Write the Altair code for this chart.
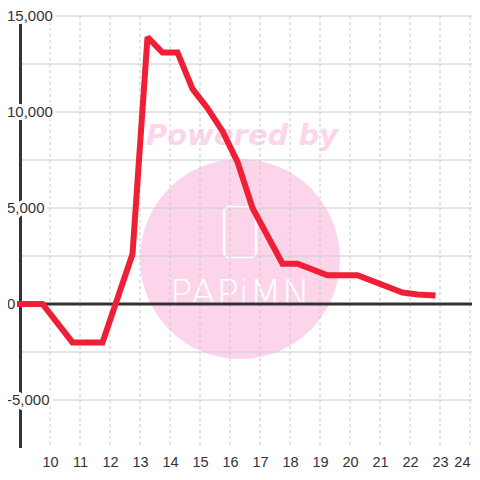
import altair as alt
import pandas as pd

# ---- data ----
hours = [9.0, 9.75, 10.75, 11.75, 12.75, 13.25, 13.75, 14.25, 14.75, 15.25,
         15.75, 16.25, 16.75, 17.75, 18.25, 19.25, 20.25, 21.75, 22.25, 22.75]
values = [0, 0, -2000, -2000, 2600, 13900, 13100, 13100, 11200, 10200,
          9000, 7400, 5000, 2100, 2100, 1500, 1500, 600, 500, 450]

x_ticks = list(range(10, 25))
y_grid = [-5000, -2500, 2500, 5000, 7500, 10000, 12500, 15000]
y_label_values = [15000, 10000, 5000, 0, -5000]
y_label_texts = ["15,000", "10,000", "5,000", "0", "-5,000"]

watermark_top = ["Powered by"]
watermark_brand = ["PAPiMN"]

W, H = 452, 432
X_MIN, X_MAX = 9, 9 + W / 30
Y_MIN, Y_MAX = -7500, 15000

FONT = "Liberation Sans"
DARK = "#333333"
RED = "#EE1F36"
PINK = "#FCD5EA"

series = pd.DataFrame({"x": hours, "y": values})
xt = pd.DataFrame({"x": x_ticks})
yg = pd.DataFrame({"y": y_grid})
yl = pd.DataFrame({"y": y_label_values, "t": y_label_texts})
one = pd.DataFrame({"a": [1]})

xs = alt.Scale(domain=[X_MIN, X_MAX], nice=False, zero=False)
ys = alt.Scale(domain=[Y_MIN, Y_MAX], nice=False, zero=False)
xaxis = alt.Axis(values=x_ticks, grid=False, domain=False, ticks=False,
                 labelFont=FONT, labelFontSize=14.5, labelColor=DARK,
                 labelPadding=7, title=None, labelFlush=6, labelOverlap=False)

# watermark (background decoration)
wm_circle = alt.Chart(one).mark_circle(
    color=PINK, opacity=1, size=40000
).encode(x=alt.value(220), y=alt.value(243))

wm_text = alt.Chart(pd.DataFrame({"t": watermark_top})).mark_text(
    font="DejaVu Sans", fontWeight="bold", fontStyle="italic", fontSize=29,
    color=PINK, align="center", baseline="alphabetic"
).encode(x=alt.value(222), y=alt.value(129), text="t:N")

wm_phone = alt.Chart(one).mark_rect(
    fillOpacity=0, stroke="white", strokeWidth=2.5, cornerRadius=5
).encode(x=alt.value(204), x2=alt.value(236), y=alt.value(191), y2=alt.value(241))

wm_brand = alt.Chart(pd.DataFrame({"t": watermark_brand})).mark_text(
    font="DejaVu Sans", fontWeight=300, fontSize=38, color="white", align="center",
    baseline="alphabetic"
).encode(x=alt.value(220), y=alt.value(290), text="t:N")

# grid
vgrid = alt.Chart(xt).mark_rule(color="#c8c8c8", strokeWidth=1, strokeDash=[3, 3]).encode(
    x=alt.X("x:Q", scale=xs, axis=xaxis),
    y=alt.value(0), y2=alt.value(H),
)

hgrid = alt.Chart(yg).mark_rule(color="#cccccc", strokeWidth=1).encode(
    y=alt.Y("y:Q", scale=ys, axis=None),
    x=alt.value(0), x2=alt.value(W),
)

yaxis_line = alt.Chart(one).mark_rule(color=DARK, strokeWidth=3).encode(
    x=alt.value(0.5), y=alt.value(0), y2=alt.value(H),
)

label_halo = alt.Chart(yl).mark_text(
    font=FONT, fontSize=15, align="left", baseline="middle",
    fill="white", stroke="white", strokeWidth=6, strokeJoin="round"
).encode(x=alt.value(-13), y=alt.Y("y:Q", scale=ys, axis=None), text="t:N")

labels = alt.Chart(yl).mark_text(
    font=FONT, fontSize=15, align="left", baseline="middle", color=DARK
).encode(x=alt.value(-13), y=alt.Y("y:Q", scale=ys, axis=None), text="t:N")

zero_line = alt.Chart(pd.DataFrame({"y": [0]})).mark_rule(color=DARK, strokeWidth=3).encode(
    y=alt.Y("y:Q", scale=ys, axis=None), x=alt.value(-3), x2=alt.value(W)
)

line = alt.Chart(series).mark_line(
    color=RED, strokeWidth=6, strokeCap="square", strokeJoin="miter", strokeMiterLimit=2
).encode(
    x=alt.X("x:Q", scale=xs, axis=xaxis),
    y=alt.Y("y:Q", scale=ys, axis=None),
)

chart = alt.layer(
    wm_circle, wm_text, wm_phone, wm_brand,
    vgrid, hgrid, yaxis_line, label_halo, labels, zero_line, line
).properties(
    width=W, height=H,
    autosize=alt.AutoSizeParams(type="none"),
    padding={"left": 12, "top": 8, "right": 0, "bottom": 24},
    background="white",
).configure_view(stroke=None)

chart.save("out.html", embed_options={"renderer": "svg", "actions": False})
